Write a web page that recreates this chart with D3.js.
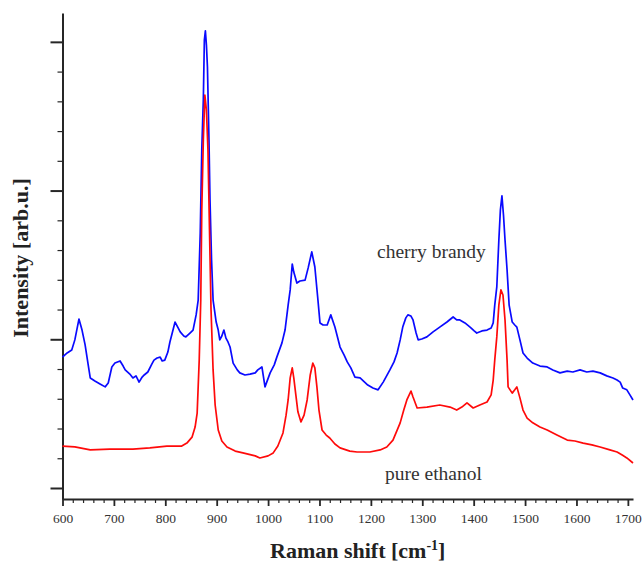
<!DOCTYPE html>
<html>
<head>
<meta charset="utf-8">
<script src="https://cdn.jsdelivr.net/npm/d3@7"></script>
<style>
  html, body { margin: 0; padding: 0; background: #fff; }
  svg { display: block; }
</style>
</head>
<body>
<svg id="chart" width="644" height="564"></svg>
<script>
// Raman shift (cm^-1) and intensity (arb. u.)
const brandyShift = [600,609,618,624,632,638,644,650,654,663,673,683,689,696,702,712,718,722,731,737,743,749,755,759,766,774,778,784,790,794,799,805,809,815,819,825,829,836,840,848,854,860,864,868,871,874,876,878,880,882,885,887,890,893,899,903,906,910,914,918,922,926,932,940,945,955,965,975,980,988,994,1004,1012,1017,1027,1033,1039,1043,1047,1050,1056,1062,1072,1078,1085,1091,1097,1101,1107,1115,1122,1130,1140,1148,1154,1161,1169,1179,1194,1204,1214,1224,1237,1245,1251,1257,1262,1268,1272,1278,1282,1288,1292,1299,1309,1321,1334,1348,1360,1367,1373,1383,1393,1401,1406,1416,1426,1434,1438,1441,1445,1449,1452,1455,1458,1461,1465,1469,1475,1480,1484,1490,1496,1504,1515,1529,1543,1554,1568,1582,1593,1607,1620,1632,1646,1659,1671,1679,1685,1690,1698,1704,1710];
const brandyIntensity = [4.40,4.54,4.64,4.98,5.68,5.31,4.81,4.14,3.70,3.60,3.50,3.40,3.53,4.07,4.20,4.27,4.10,3.97,3.83,3.70,3.77,3.56,3.73,3.80,3.90,4.17,4.30,4.37,4.40,4.27,4.30,4.57,4.91,5.31,5.58,5.38,5.25,5.11,5.08,5.21,5.31,5.82,6.32,8.57,11.37,13.05,15.06,15.37,14.90,14.16,11.70,9.68,7.67,6.32,5.58,5.31,4.98,5.11,5.31,5.04,4.91,4.74,4.20,3.97,3.87,3.80,3.83,3.87,3.97,4.07,3.40,3.87,4.14,4.40,4.88,5.31,6.15,6.66,7.53,7.26,6.89,6.96,6.99,7.40,7.94,7.43,6.32,5.55,5.48,5.48,5.82,5.41,4.74,4.47,4.24,4.04,3.73,3.70,3.46,3.36,3.30,3.56,3.97,4.24,4.54,4.98,5.41,5.72,5.82,5.78,5.65,5.21,4.98,5.01,5.08,5.25,5.41,5.58,5.75,5.65,5.65,5.55,5.41,5.28,5.21,5.28,5.31,5.38,5.55,6.15,6.76,8.34,9.35,9.82,9.18,8.34,7.33,6.15,5.58,5.48,5.41,4.98,4.54,4.37,4.20,4.10,4.07,3.97,3.87,3.93,3.90,3.97,3.90,3.93,3.87,3.77,3.70,3.63,3.56,3.36,3.30,3.13,2.96];

const ethanolShift = [600,624,654,692,737,770,803,832,842,852,858,862,866,869,871,874,877,880,883,886,889,893,897,903,910,920,936,951,975,984,1000,1010,1019,1029,1035,1039,1043,1047,1050,1054,1058,1064,1070,1076,1082,1087,1091,1095,1099,1105,1113,1120,1130,1140,1159,1173,1198,1218,1231,1243,1257,1264,1270,1278,1282,1290,1309,1334,1354,1367,1377,1387,1399,1412,1426,1434,1438,1441,1445,1449,1453,1457,1461,1465,1467,1475,1480,1484,1490,1496,1504,1515,1529,1543,1562,1582,1597,1613,1630,1646,1665,1679,1689,1698,1710];
const ethanolIntensity = [1.41,1.38,1.28,1.31,1.31,1.35,1.41,1.41,1.51,1.71,2.05,2.52,4.30,6.32,9.35,11.70,13.21,12.71,11.37,8.68,5.99,3.97,2.79,1.95,1.58,1.38,1.24,1.18,1.08,1.01,1.08,1.18,1.41,1.85,2.45,2.96,3.70,4.04,3.70,3.13,2.56,2.22,2.45,2.96,3.80,4.20,4.04,3.40,2.62,1.95,1.78,1.68,1.48,1.35,1.24,1.21,1.21,1.28,1.38,1.61,2.19,2.62,2.96,3.26,3.06,2.69,2.72,2.79,2.72,2.62,2.72,2.86,2.69,2.79,2.89,3.13,3.63,4.30,5.08,6.15,6.66,6.49,5.65,4.30,3.40,3.19,3.30,3.40,3.03,2.62,2.35,2.19,2.05,1.95,1.78,1.61,1.58,1.51,1.45,1.38,1.28,1.21,1.11,1.01,0.84];

const xMajorTicks = [600,700,800,900,1000,1100,1200,1300,1400,1500,1600,1700];
const yMajorTicks = [0,5,10,15];
const seriesNames = ["cherry brandy", "pure ethanol"];
const xTitle = "Raman shift [cm";
const xTitleSup = "-1";
const yTitle = "Intensity [arb.u.]";

const svg = d3.select("#chart");
const serif = "Liberation Serif, Times New Roman, serif";
const axisColor = "#262626";

const x = d3.scaleLinear().domain([600, 1710]).range([62.5, 633]);
const y = d3.scaleLinear().domain([-0.37, 15.97]).range([499, 13]);

const xMinor = d3.range(600, 1711, 20).filter(v => v % 100 !== 0);
const yMinor = d3.range(0, 16, 1).filter(v => v % 5 !== 0);

// X axis minor ticks
svg.append("g").attr("transform", `translate(0,${y.range()[0]})`)
  .call(d3.axisBottom(x).tickValues(xMinor).tickSize(4).tickSizeOuter(0).tickFormat(""))
  .call(g => g.select(".domain").remove())
  .call(g => g.selectAll("line").attr("stroke", axisColor).attr("stroke-width", 1.2));
// X axis major
svg.append("g").attr("transform", `translate(0,${y.range()[0]})`)
  .attr("font-family", serif).attr("font-size", 13.5)
  .call(d3.axisBottom(x).tickValues(xMajorTicks).tickSize(7).tickSizeOuter(0).tickPadding(7).tickFormat(d3.format("d")))
  .attr("font-family", serif).attr("font-size", 13.5)
  .call(g => g.select(".domain").attr("stroke", axisColor).attr("stroke-width", 2))
  .call(g => g.selectAll("line").attr("stroke", axisColor).attr("stroke-width", 1.8))
  .call(g => g.selectAll("text").style("font-family", serif).attr("fill", "#333"));

// Y axis minor ticks
svg.append("g").attr("transform", `translate(${x.range()[0]},0)`)
  .call(d3.axisLeft(y).tickValues(yMinor).tickSize(5).tickSizeOuter(0).tickFormat(""))
  .call(g => g.select(".domain").remove())
  .call(g => g.selectAll("line").attr("stroke", axisColor).attr("stroke-width", 1.2));
// Y axis major
svg.append("g").attr("transform", `translate(${x.range()[0]},0)`)
  .call(d3.axisLeft(y).tickValues(yMajorTicks).tickSize(12).tickSizeOuter(0).tickFormat(""))
  .call(g => g.select(".domain").attr("stroke", axisColor).attr("stroke-width", 2))
  .call(g => g.selectAll("line").attr("stroke", axisColor).attr("stroke-width", 2));

// Lines
const line = d3.line().x(d => x(d[0])).y(d => y(d[1])).curve(d3.curveLinear);
const brandy = brandyShift.map((v, i) => [v, brandyIntensity[i]]);
const ethanol = ethanolShift.map((v, i) => [v, ethanolIntensity[i]]);

svg.append("path").datum(brandy).attr("d", line)
  .attr("fill", "none").attr("stroke", "#0a0aff").attr("stroke-width", 1.7).attr("stroke-linejoin", "round");
svg.append("path").datum(ethanol).attr("d", line)
  .attr("fill", "none").attr("stroke", "#ff0a0a").attr("stroke-width", 1.7).attr("stroke-linejoin", "round");

// Series labels
svg.append("text").attr("x", 377).attr("y", 258)
  .style("font-family", serif).attr("font-size", 19.5).attr("fill", "#333").text(seriesNames[0]);
svg.append("text").attr("x", 385).attr("y", 480)
  .style("font-family", serif).attr("font-size", 19.5).attr("fill", "#333").text(seriesNames[1]);

// Axis titles
const xt = svg.append("text").attr("x", 270).attr("y", 558)
  .style("font-family", serif).attr("font-size", 22).attr("font-weight", "bold").attr("fill", "#222");
xt.append("tspan").text(xTitle);
xt.append("tspan").attr("font-size", 14).attr("dy", -8).text(xTitleSup);
xt.append("tspan").attr("dy", 8).text("]");

svg.append("text").attr("transform", "translate(28,258) rotate(-90)")
  .attr("text-anchor", "middle")
  .style("font-family", serif).attr("font-size", 22).attr("font-weight", "bold").attr("fill", "#222")
  .text(yTitle);
</script>
</body>
</html>
